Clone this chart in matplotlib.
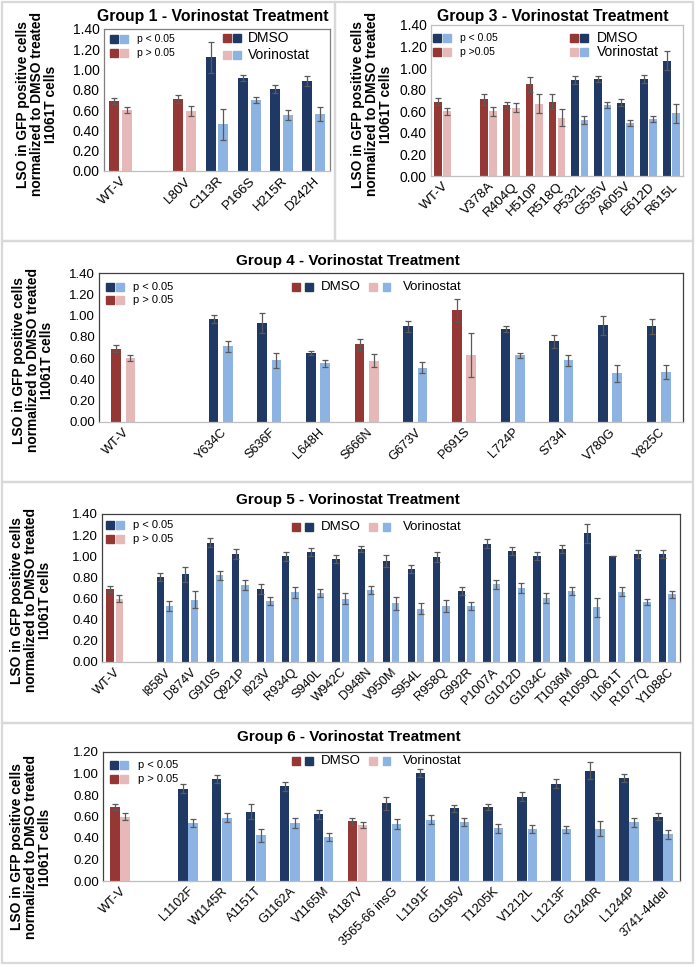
import numpy as np
import matplotlib
matplotlib.use('Agg')
import matplotlib.pyplot as plt
from matplotlib.patches import Rectangle

plt.rcParams['font.family'] = ['Liberation Sans', 'DejaVu Sans']

navy = '#1f3864'
lblue = '#8db3e2'
red = '#953735'
pink = '#e6b9b8'
errc = '#5a5a5a'

# ---- data (blank category after WT-V) ----
g1_labels = ['WT-V', '', 'L80V', 'C113R', 'P166S', 'H215R', 'D242H']
g1_dmso = [0.69, np.nan, 0.71, 1.12, 0.92, 0.81, 0.89]
g1_dmso_err = [0.03, np.nan, 0.04, 0.15, 0.03, 0.04, 0.05]
g1_vor = [0.60, np.nan, 0.59, 0.46, 0.70, 0.55, 0.56]
g1_vor_err = [0.03, np.nan, 0.05, 0.15, 0.03, 0.05, 0.07]
g1_sig = [False, False, False, True, True, True, True]

g3_labels = ['WT-V', '', 'V378A', 'R404Q', 'H510P', 'R518Q', 'P532L', 'G535V',
             'A605V', 'E612D', 'R615L']
g3_dmso = [0.69, np.nan, 0.71, 0.66, 0.85, 0.69, 0.89, 0.90, 0.68, 0.90, 1.07]
g3_dmso_err = [0.03, np.nan, 0.05, 0.03, 0.07, 0.07, 0.04, 0.03, 0.03, 0.04, 0.09]
g3_vor = [0.60, np.nan, 0.60, 0.635, 0.67, 0.54, 0.52, 0.66, 0.49, 0.53, 0.58]
g3_vor_err = [0.03, np.nan, 0.04, 0.04, 0.09, 0.08, 0.04, 0.03, 0.03, 0.03, 0.09]
g3_sig = [False, False, False, False, False, False, True, True, True, True, True]

g4_labels = ['WT-V', '', 'Y634C', 'S636F', 'L648H', 'S666N', 'G673V', 'P691S',
             'L724P', 'S734I', 'V780G', 'Y825C']
g4_dmso = [0.69, np.nan, 0.97, 0.93, 0.65, 0.73, 0.90, 1.05, 0.875, 0.76, 0.91, 0.90]
g4_dmso_err = [0.03, np.nan, 0.04, 0.09, 0.02, 0.05, 0.05, 0.11, 0.03, 0.06, 0.09, 0.07]
g4_vor = [0.60, np.nan, 0.71, 0.58, 0.55, 0.575, 0.51, 0.63, 0.625, 0.58, 0.46, 0.47]
g4_vor_err = [0.03, np.nan, 0.05, 0.07, 0.03, 0.06, 0.05, 0.21, 0.02, 0.05, 0.08, 0.07]
g4_sig = [False, False, True, True, True, False, True, False, True, True, True, True]

g5_labels = ['WT-V', '', 'I858V', 'D874V', 'G910S', 'Q921P', 'I923V', 'R934Q',
             'S940L', 'W942C', 'D948N', 'V950M', 'S954L', 'R958Q', 'G992R',
             'P1007A', 'G1012D', 'G1034C', 'T1036M', 'R1059Q', 'I1061T',
             'R1077Q', 'Y1088C']
g5_dmso = [0.69, np.nan, 0.805, 0.83, 1.13, 1.02, 0.69, 1.00, 1.04, 0.975, 1.07,
           0.955, 0.88, 0.995, 0.67, 1.12, 1.05, 1.005, 1.07, 1.22, 1.005, 1.02, 1.02]
g5_dmso_err = [0.03, np.nan, 0.04, 0.07, 0.04, 0.05, 0.05, 0.04, 0.04, 0.04, 0.03,
               0.06, 0.04, 0.05, 0.04, 0.04, 0.04, 0.04, 0.04, 0.09, 0.0, 0.04, 0.04]
g5_vor = [0.60, np.nan, 0.53, 0.59, 0.82, 0.73, 0.575, 0.66, 0.655, 0.60, 0.68,
          0.555, 0.505, 0.53, 0.53, 0.735, 0.70, 0.605, 0.67, 0.52, 0.665, 0.57, 0.64]
g5_vor_err = [0.03, np.nan, 0.05, 0.08, 0.04, 0.05, 0.04, 0.05, 0.04, 0.05, 0.04,
              0.06, 0.05, 0.06, 0.04, 0.04, 0.05, 0.05, 0.04, 0.09, 0.04, 0.03, 0.03]
g5_sig = [False, False] + [True] * 21

g6_labels = ['WT-V', '', 'L1102F', 'W1145R', 'A1151T', 'G1162A', 'V1165M',
             'A1187V', '3565-66 insG', 'L1191F', 'G1195V', 'T1205K', 'V1212L',
             'L1213F', 'G1240R', 'L1244P', '3741-44del']
g6_dmso = [0.69, np.nan, 0.86, 0.95, 0.645, 0.88, 0.62, 0.555, 0.725, 1.005,
           0.675, 0.69, 0.785, 0.905, 1.025, 0.96, 0.60]
g6_dmso_err = [0.03, np.nan, 0.04, 0.04, 0.07, 0.04, 0.04, 0.03, 0.06, 0.04,
               0.03, 0.03, 0.04, 0.04, 0.08, 0.04, 0.03]
g6_vor = [0.60, np.nan, 0.54, 0.59, 0.425, 0.54, 0.41, 0.52, 0.53, 0.57, 0.55,
          0.49, 0.485, 0.48, 0.485, 0.545, 0.435]
g6_vor_err = [0.03, np.nan, 0.04, 0.04, 0.06, 0.05, 0.04, 0.03, 0.05, 0.04, 0.04,
              0.04, 0.04, 0.03, 0.07, 0.04, 0.04]
g6_sig = [False, False, True, True, True, True, True, False, True, True, True,
          True, True, True, True, True, True]

W, H = 697, 967
fig = plt.figure(figsize=(W / 100, H / 100), dpi=100)

YLAB = 'LSO in GFP positive cells\nnormalized to DMSO treated\nI1061T cells'


def px_axes(x0, y0, x1, y1):
    return fig.add_axes([x0 / W, 1 - y1 / H, (x1 - x0) / W, (y1 - y0) / H])


def txt(x, y, s, **kw):
    kw.setdefault('va', 'center')
    fig.text(x / W, 1 - y / H, s, **kw)


def sq(x, y, c, s=7.5):
    fig.add_artist(Rectangle((x / W, 1 - (y + s / 2) / H), s / W, s / H,
                             color=c, transform=fig.transFigure))


def box(x0, y0, x1, y1):
    fig.add_artist(Rectangle((x0 / W, 1 - y1 / H), (x1 - x0) / W, (y1 - y0) / H,
                             fill=False, edgecolor='#d9d9d9', lw=1.6,
                             transform=fig.transFigure))


def draw(ax, labels, dm, dme, vo, voe, sig, width, off, ymax, fs, frame):
    x = np.arange(len(labels))
    c1 = [navy if s else red for s in sig]
    c2 = [lblue if s else pink for s in sig]
    ek = dict(ecolor=errc, capsize=2.5, elinewidth=0.9, capthick=0.9)
    ax.bar(x - off, dm, width, color=c1, yerr=dme, error_kw=ek, zorder=2)
    ax.bar(x + off, vo, width, color=c2, yerr=voe, error_kw=ek, zorder=2)
    ax.set_xlim(-0.5, len(labels) - 0.5)
    ax.set_ylim(0, ymax)
    ticks = np.arange(0, ymax + 0.001, 0.2)
    ax.set_yticks(ticks)
    ax.set_yticklabels(['%.2f' % t for t in ticks], fontsize=fs)
    ax.set_xticks(x)
    ax.set_xticklabels(labels, rotation=45, ha='right', rotation_mode='anchor',
                       fontsize=fs - 0.3)
    ax.tick_params(length=0, pad=3)
    for s in ax.spines.values():
        s.set_color(frame)
        s.set_linewidth(0.9)
    ax.spines['bottom'].set_color('#bfbfbf')


# panel frames
box(2, 2, 335, 241)
box(335, 2, 693, 241)
box(2, 241, 693, 482)
box(2, 482, 693, 723)
box(2, 723, 693, 963)

# ---- Group 1 ----
ax1 = px_axes(104, 29, 330, 171)
draw(ax1, g1_labels, g1_dmso, g1_dmso_err, g1_vor, g1_vor_err, g1_sig,
     0.31, 0.2, 1.4, 10, '#7f7f7f')
txt(213, 17, 'Group 1 - Vorinostat Treatment', ha='center', fontsize=11.3,
    fontweight='bold')
txt(37, 104, YLAB, ha='center', rotation=90, fontsize=9.9, fontweight='bold',
    linespacing=1.0)
sq(110, 39, navy); sq(120, 39, lblue)
sq(110, 53, red); sq(120, 53, pink)
txt(137, 39, 'p < 0.05', fontsize=7.5)
txt(137, 53, 'p > 0.05', fontsize=7.5)
sq(223, 38, red); sq(233, 38, navy)
sq(223, 55, pink); sq(233, 55, lblue)
txt(248, 38, 'DMSO', fontsize=10)
txt(248, 55, 'Vorinostat', fontsize=10)

# ---- Group 3 ----
ax3 = px_axes(431, 25, 683, 176)
draw(ax3, g3_labels, g3_dmso, g3_dmso_err, g3_vor, g3_vor_err, g3_sig,
     0.34, 0.2, 1.4, 10, '#bfbfbf')
txt(553, 17, 'Group 3 - Vorinostat Treatment', ha='center', fontsize=11.3,
    fontweight='bold')
txt(372, 104, YLAB, ha='center', rotation=90, fontsize=9.9, fontweight='bold',
    linespacing=1.0)
sq(433, 38, navy); sq(443, 38, lblue)
sq(433, 52, red); sq(443, 52, pink)
txt(460, 38, 'p < 0.05', fontsize=7.5)
txt(460, 52, 'p >0.05', fontsize=7.5)
sq(570, 38, red); sq(580, 38, navy)
sq(570, 52, pink); sq(580, 52, lblue)
txt(597, 38, 'DMSO', fontsize=10)
txt(597, 52, 'Vorinostat', fontsize=10)


def wide_legend(yl1, yl2, yr, xs=106, xt=133):
    sq(xs, yl1, navy); sq(xs + 10, yl1, lblue)
    sq(xs, yl2, red); sq(xs + 10, yl2, pink)
    txt(xt, yl1, 'p < 0.05', fontsize=8)
    txt(xt, yl2, 'p > 0.05', fontsize=8)
    sq(292, yr, red); sq(305, yr, navy)
    txt(321, yr, 'DMSO', fontsize=9.5)
    sq(369, yr, pink); sq(383, yr, lblue)
    txt(403, yr, 'Vorinostat', fontsize=9.5)


# ---- Group 4 ----
ax4 = px_axes(99, 273, 683, 422)
draw(ax4, g4_labels, g4_dmso, g4_dmso_err, g4_vor, g4_vor_err, g4_sig,
     0.2, 0.145, 1.4, 9.5, '#404040')
txt(348, 261, 'Group 4 - Vorinostat Treatment', ha='center', fontsize=11,
    fontweight='bold')
txt(33, 360, YLAB, ha='center', rotation=90, fontsize=9.9, fontweight='bold',
    linespacing=1.0)
wide_legend(287, 300, 287)

# ---- Group 5 ----
ax5 = px_axes(102, 514, 680, 662)
draw(ax5, g5_labels, g5_dmso, g5_dmso_err, g5_vor, g5_vor_err, g5_sig,
     0.29, 0.185, 1.4, 9.5, '#404040')
txt(348, 500, 'Group 5 - Vorinostat Treatment', ha='center', fontsize=11,
    fontweight='bold')
txt(31, 600, YLAB, ha='center', rotation=90, fontsize=9.9, fontweight='bold',
    linespacing=1.0)
wide_legend(525, 539, 527)

# ---- Group 6 ----
ax6 = px_axes(103, 752, 680, 881)
draw(ax6, g6_labels, g6_dmso, g6_dmso_err, g6_vor, g6_vor_err, g6_sig,
     0.28, 0.15, 1.2, 9.5, '#404040')
txt(349, 737, 'Group 6 - Vorinostat Treatment', ha='center', fontsize=11,
    fontweight='bold')
txt(31, 847, YLAB, ha='center', rotation=90, fontsize=9.9, fontweight='bold',
    linespacing=1.0)
wide_legend(765, 779, 761, xs=110, xt=138)

fig.savefig('out.png', dpi=100)
